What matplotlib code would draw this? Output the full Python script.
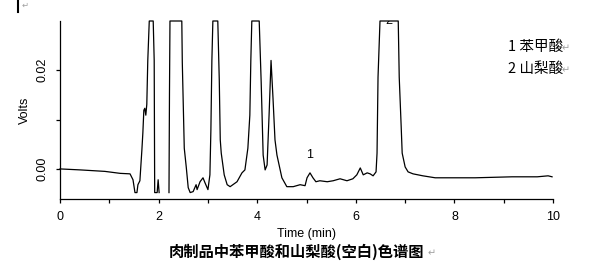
import matplotlib.pyplot as plt
from matplotlib.lines import Line2D
import numpy as np

plt.rcParams['font.family'] = ['Liberation Sans', 'Noto Sans CJK SC', 'DejaVu Sans']

# Хроматограмма (время, мин / сигнал, В); 0.030 - верх шкалы (пик зашкаливает)
time_min = [0.00, 0.41, 0.91, 1.22, 1.42, 1.48, 1.52, 1.56, 1.58, 1.62,
            1.66, 1.68, 1.70, 1.72, 1.74, 1.76, 1.78, 1.81, 1.89, 1.91,
            1.92, 1.97, 1.99, 2.01, 2.10,
            2.21, 2.22, 2.23, 2.47, 2.48, 2.52, 2.56, 2.60, 2.64,
            2.70, 2.76, 2.78, 2.84, 2.90, 2.94, 3.00, 3.04, 3.06, 3.08,
            3.10, 3.20, 3.23, 3.25, 3.27, 3.33, 3.39, 3.45, 3.59, 3.69,
            3.75, 3.81, 3.85, 3.87, 3.89, 4.04, 4.08, 4.12, 4.16, 4.20,
            4.24, 4.28, 4.32, 4.36, 4.40, 4.50, 4.60, 4.73, 4.87, 4.97,
            5.01, 5.07, 5.13, 5.19, 5.27, 5.42, 5.54, 5.68, 5.82, 5.94,
            6.02, 6.09, 6.15, 6.23, 6.29, 6.35, 6.41, 6.43, 6.45, 6.49,
            6.86, 6.88, 6.92, 6.94, 7.00, 7.06, 7.16, 7.36, 7.61, 8.42,
            9.17, 9.68, 9.90, 9.98]
volts = [0.0000, -0.0002, -0.0005, -0.0009, -0.0010, -0.0022, -0.0048, -0.0048, -0.0032, -0.0024,
         0.0038, 0.0073, 0.0119, 0.0123, 0.0109, 0.0131, 0.0220, 0.0300, 0.0300, 0.0220,
         -0.0048, -0.0048, -0.0022, -0.0048, np.nan,
         -0.0048, 0.0154, 0.0300, 0.0300, 0.0216, 0.0042, 0.0004, -0.0038, -0.0048,
         -0.0046, -0.0032, -0.0042, -0.0026, -0.0018, -0.0028, -0.0042, -0.0012, 0.0079, 0.0220,
         0.0300, 0.0300, 0.0180, 0.0059, 0.0032, -0.0012, -0.0032, -0.0036, -0.0026, -0.0008,
         -0.0002, 0.0042, 0.0109, 0.0220, 0.0300, 0.0300, 0.0176, 0.0028, -0.0002, 0.0008,
         0.0109, 0.0220, 0.0143, 0.0059, 0.0028, -0.0018, -0.0036, -0.0036, -0.0032, -0.0034,
         -0.0018, -0.0008, -0.0018, -0.0026, -0.0024, -0.0026, -0.0024, -0.0020, -0.0024, -0.0020,
         -0.0012, 0.0002, -0.0012, -0.0008, -0.0010, -0.0014, -0.0006, 0.0032, 0.0186, 0.0300,
         0.0300, 0.0186, 0.0085, 0.0032, 0.0004, -0.0006, -0.0010, -0.0014, -0.0018, -0.0018,
         -0.0016, -0.0016, -0.0014, -0.0016]

# Подписи пиков
peak_labels = ['1', '2']
peak_times = [5.07, 6.66]
peak_y = [0.0017, 0.0300]

legend_lines = ['1 苯甲酸', '2 山梨酸']

fig = plt.figure(figsize=(5.92, 2.72), dpi=100)
ax = fig.add_axes([0.1014, 0.2684, 0.8328, 0.6544])

ax.plot(time_min, volts, color='black', linewidth=0.9, clip_on=False)
ax.set_xlim(0, 10)
ax.set_ylim(-0.0061, 0.0300)

for s in ['top', 'right']:
    ax.spines[s].set_visible(False)
for s in ['left', 'bottom']:
    ax.spines[s].set_linewidth(0.9)

ax.set_xticks(range(0, 11))
ax.set_xticklabels([str(i) if i % 2 == 0 else '' for i in range(0, 11)])
ax.set_yticks([0.0, 0.01, 0.02])
ax.set_yticklabels(['0.00', '', '0.02'], rotation=90, va='center')
ax.tick_params(axis='both', direction='out', length=3, width=0.9, labelsize=9, colors='black')
ax.tick_params(axis='x', pad=6)
ax.tick_params(axis='y', pad=5)

ax.set_xlabel('Time (min)', fontsize=9, labelpad=3)
ax.set_ylabel('Volts', fontsize=9, labelpad=4)

ax.text(peak_times[0], peak_y[0], peak_labels[0], ha='center', va='bottom', fontsize=9)
ax.text(peak_times[1], peak_y[1], peak_labels[1], ha='center', va='center', fontsize=9, clip_on=True)

# Легенда справа вверху
for i, line in enumerate(legend_lines):
    ax.text(9.08, 0.0247 - i * 0.0044, line, fontsize=10.5, ha='left', va='center',
            family=['Noto Sans CJK SC', 'DejaVu Sans'])
    ax.text(10.18, 0.0245 - i * 0.0044, '↵', fontsize=7, color='#a0a0a0', ha='left', va='center',
            family=['DejaVu Sans'], clip_on=False)

fig.text(0.5, 0.074, '肉制品中苯甲酸和山梨酸(空白)色谱图', ha='center', va='center',
         fontsize=11, fontweight='bold', family=['Noto Sans CJK SC', 'DejaVu Sans'])
fig.text(0.722, 0.07, '↵', ha='left', va='center', fontsize=7, color='#a0a0a0', family=['DejaVu Sans'])

# Метка в левом верхнем углу
fig.add_artist(Line2D([0.031, 0.031], [1.0, 0.956], color='black', linewidth=1.5))
fig.text(0.036, 0.98, '↵', ha='left', va='center', fontsize=6, color='#a0a0a0', family=['DejaVu Sans'])

fig.savefig('out.png', dpi=100)
